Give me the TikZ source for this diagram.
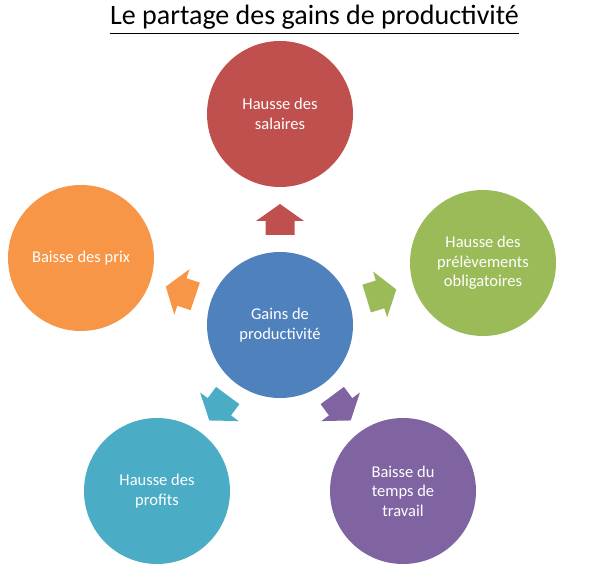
\documentclass[tikz,border=0pt]{standalone}
\usepackage{fontspec}
\setmainfont{Carlito}
\usetikzlibrary{calc}
\definecolor{cred}{HTML}{C0504D}
\definecolor{corange}{HTML}{F79646}
\definecolor{cgreen}{HTML}{9BBB59}
\definecolor{cteal}{HTML}{4BACC6}
\definecolor{cpurple}{HTML}{8064A2}
\definecolor{cblue}{HTML}{4F81BD}
\begin{document}
\begin{tikzpicture}[x=1pt,y=1pt,
  bubble/.style={circle, minimum size=146pt, inner sep=0pt, text=white, align=center,
    font=\fontsize{16.5}{19.5}\selectfont},
  blockarrow/.pic={\fill[pic actions] (-15.5,-14.5) -- (-1.5,-14.5) -- (-1.5,-24) -- (15.5,0)
     -- (-1.5,24) -- (-1.5,14.5) -- (-15.5,14.5) -- cycle;}]
\useasboundingbox (0,0) rectangle (599,573);
\node[anchor=base, inner sep=0pt, font=\fontsize{28}{32}\selectfont] (title) at (314.5,548) {Le partage des gains de productivité};
\draw[line width=1.6pt] ([yshift=-8.5pt]title.base west) -- ([yshift=-8.5pt]title.base east);
\node[bubble, fill=cblue] (c) at (280,248) {Gains de\\productivité};
\node[bubble, fill=cred] (t) at (280,459) {Hausse des\\salaires};
\node[bubble, fill=corange] (l) at (81,315) {Baisse des prix};
\node[bubble, fill=cgreen] (r) at (483,310) {Hausse des\\prélèvements\\obligatoires};
\node[bubble, fill=cteal] (bl) at (157,82) {Hausse des\\profits};
\node[bubble, fill=cpurple] (br) at (403,82) {Baisse du\\temps de\\travail};
\pic[fill=cred, rotate=90] at ($(c)!0.5!(t)$) {blockarrow};
\pic[fill=corange, rotate=161.5] at ($(c)!0.5!(l)$) {blockarrow};
\pic[fill=cgreen, rotate=17] at ($(c)!0.5!(r)$) {blockarrow};
\pic[fill=cteal, rotate=233.5] at ($(c)!0.5!(bl)$) {blockarrow};
\pic[fill=cpurple, rotate=306.5] at ($(c)!0.5!(br)$) {blockarrow};
\end{tikzpicture}
\end{document}
